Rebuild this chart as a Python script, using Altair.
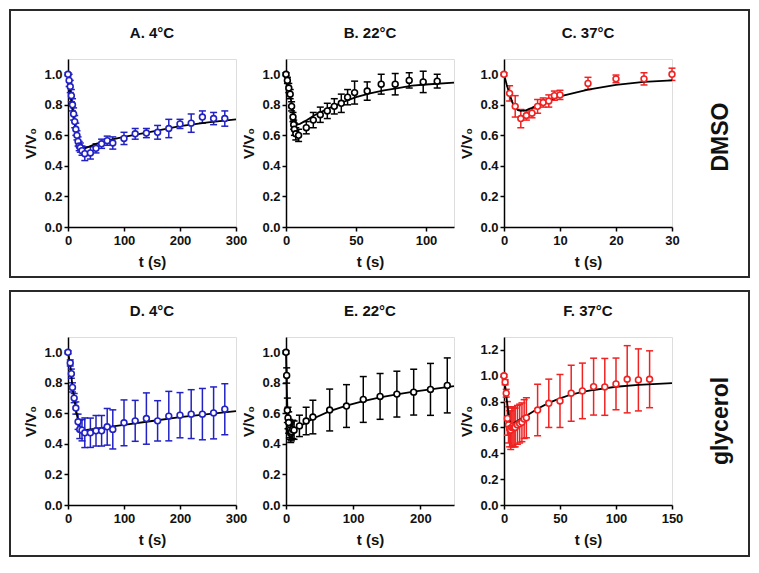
import altair as alt
import pandas as pd

FONT = "Liberation Sans"
BLUE = "#2222c4"
RED = "#f02222"
BLACK = "#000000"

ROW_LABELS = ["DMSO", "glycerol"]
TITLES = ["A. 4°C", "B. 22°C", "C. 37°C", "D. 4°C", "E. 22°C", "F. 37°C"]

# ---- Panel A : DMSO 4 °C ----
A_t = [0, 2, 4, 6, 8, 10, 12, 14, 16, 18, 20, 22, 25, 30, 40, 50, 60, 70, 80,
       100, 120, 140, 160, 180, 200, 220, 240, 260, 280]
A_v = [1.0, 0.96, 0.92, 0.86, 0.80, 0.74, 0.69, 0.64, 0.60, 0.56, 0.53, 0.52, 0.50,
       0.48, 0.485, 0.515, 0.545, 0.565, 0.55, 0.58, 0.61, 0.615, 0.62, 0.645,
       0.675, 0.68, 0.72, 0.71, 0.71]
A_err = [0.01, 0.04, 0.04, 0.04, 0.04, 0.04, 0.04, 0.04, 0.03, 0.03, 0.03, 0.03, 0.03,
         0.045, 0.04, 0.03, 0.03, 0.03, 0.04, 0.04, 0.035, 0.03, 0.045, 0.06, 0.03,
         0.06, 0.04, 0.04, 0.05]
A_fit_t = [0, 3, 6, 9, 12, 15, 18, 21, 24, 30, 40, 50, 75, 100, 150, 200, 250, 300]
A_fit_v = [1.0, 0.91, 0.82, 0.74, 0.67, 0.61, 0.56, 0.52, 0.51, 0.515, 0.53, 0.545,
           0.57, 0.59, 0.625, 0.66, 0.685, 0.705]

# ---- Panel B : DMSO 22 °C ----
B_t = [0, 1, 2, 3, 4, 5, 5.5, 6, 7, 9, 14.5, 19.5, 24.5, 29.5, 34.5, 39.5, 44, 49,
       58, 68, 78, 88, 98, 108]
B_v = [1.0, 0.96, 0.91, 0.87, 0.79, 0.72, 0.67, 0.64, 0.61, 0.60, 0.65, 0.70, 0.735,
       0.76, 0.79, 0.81, 0.85, 0.88, 0.89, 0.935, 0.935, 0.96, 0.95, 0.955]
B_err = [0.01, 0.02, 0.03, 0.03, 0.03, 0.03, 0.03, 0.04, 0.04, 0.04, 0.04, 0.05, 0.05,
         0.05, 0.05, 0.06, 0.05, 0.075, 0.06, 0.065, 0.07, 0.05, 0.07, 0.045]
B_fit_t = [0, 2, 4, 6, 7.5, 10, 15, 20, 30, 40, 50, 60, 70, 80, 90, 100, 120]
B_fit_v = [1.0, 0.91, 0.81, 0.72, 0.67, 0.675, 0.70, 0.73, 0.775, 0.815, 0.85, 0.875,
           0.895, 0.91, 0.925, 0.933, 0.945]

# ---- Panel C : DMSO 37 °C ----
C_t = [0, 1, 2, 3, 4, 5, 6, 7, 8, 9, 10, 15, 20, 25, 30]
C_v = [1.0, 0.875, 0.79, 0.71, 0.73, 0.745, 0.79, 0.815, 0.825, 0.86, 0.865, 0.94,
       0.97, 0.97, 1.0]
C_err = [0.01, 0.05, 0.07, 0.06, 0.03, 0.03, 0.045, 0.03, 0.04, 0.03, 0.03, 0.04,
         0.025, 0.04, 0.04]
C_fit_t = [0, 0.5, 1, 1.5, 2, 2.5, 3, 4, 5, 6, 8, 10, 15, 20, 25, 30]
C_fit_v = [1.0, 0.93, 0.87, 0.815, 0.78, 0.765, 0.76, 0.765, 0.78, 0.80, 0.83, 0.855,
           0.90, 0.93, 0.95, 0.96]

# ---- Panel D : glycerol 4 °C ----
D_t = [0, 4, 6, 8, 11, 14, 18, 21, 25, 30, 40, 50, 60, 70, 80,
       100, 120, 140, 160, 180, 200, 220, 240, 260, 280]
D_v = [1.0, 0.93, 0.86, 0.77, 0.70, 0.635, 0.545, 0.495, 0.49,
       0.473, 0.473, 0.486, 0.486, 0.512, 0.495,
       0.538, 0.551, 0.566, 0.551, 0.582, 0.588, 0.595, 0.595, 0.603, 0.627]
D_err = [0.01, 0.02, 0.03, 0.03, 0.03, 0.04, 0.05, 0.06, 0.07,
         0.097, 0.096, 0.10, 0.10, 0.12, 0.128,
         0.15, 0.134, 0.168, 0.132, 0.162, 0.148, 0.16, 0.168, 0.17, 0.167]
D_fit_t = [0, 4, 8, 11, 14, 18, 22, 27, 50, 100, 150, 200, 250, 300]
D_fit_v = [1.0, 0.92, 0.77, 0.70, 0.63, 0.55, 0.50, 0.488, 0.50, 0.525, 0.55, 0.575,
           0.595, 0.614]

# ---- Panel E : glycerol 22 °C ----
E_t = [0, 1, 2, 3, 4, 5, 6, 7, 8, 10, 12, 20, 30, 40, 65, 90, 115, 140, 165, 190,
       215, 240]
E_v = [1.0, 0.848, 0.62, 0.57, 0.54, 0.50, 0.49, 0.47, 0.48, 0.495, 0.49, 0.518,
       0.55, 0.576, 0.622, 0.648, 0.691, 0.711, 0.726, 0.739, 0.757, 0.783]
E_err = [0.01, 0.05, 0.08, 0.07, 0.07, 0.06, 0.06, 0.06, 0.06, 0.06, 0.06, 0.07,
         0.09, 0.11, 0.137, 0.14, 0.15, 0.15, 0.15, 0.15, 0.17, 0.18]
E_fit_t = [0, 1, 2, 3, 5, 8, 12, 20, 40, 65, 90, 115, 140, 165, 190, 215, 250]
E_fit_v = [1.0, 0.80, 0.62, 0.52, 0.49, 0.49, 0.495, 0.515, 0.565, 0.615, 0.65,
           0.68, 0.705, 0.725, 0.742, 0.757, 0.778]

# ---- Panel F : glycerol 37 °C ----
F_t = [0, 1, 2, 3, 4, 5, 6, 7, 8, 9, 10, 12, 14, 16, 18, 20, 30, 40, 50, 60, 70,
       80, 90, 100, 110, 120, 130]
F_v = [1.0, 0.95, 0.865, 0.67, 0.62, 0.59, 0.58, 0.60, 0.61, 0.60, 0.60, 0.62, 0.63,
       0.64, 0.665, 0.675, 0.735, 0.787, 0.805, 0.865, 0.883, 0.916, 0.914, 0.937,
       0.973, 0.968, 0.973]
F_err = [0.01, 0.02, 0.03, 0.13, 0.14, 0.14, 0.15, 0.15, 0.15, 0.15, 0.15, 0.15, 0.15,
         0.15, 0.15, 0.155, 0.20, 0.187, 0.205, 0.217, 0.215, 0.22, 0.22, 0.20, 0.26,
         0.24, 0.22]
F_fit_t = [0, 2, 4, 6, 8, 10, 15, 20, 30, 40, 50, 60, 70, 80, 90, 100, 120, 150]
F_fit_v = [1.0, 0.85, 0.70, 0.615, 0.625, 0.64, 0.665, 0.69, 0.745, 0.79, 0.825,
           0.855, 0.875, 0.89, 0.903, 0.915, 0.93, 0.943]

Y_TICKS = [0.0, 0.2, 0.4, 0.6, 0.8, 1.0]
Y_TICKS_F = [0.0, 0.2, 0.4, 0.6, 0.8, 1.0, 1.2]

W = 168
H = 168


def panel(title, t, v, err, fit_t, fit_v, color, xmax, xticks, ymax, yticks,
          extra=()):
    pts = pd.DataFrame({
        "t": t, "v": v,
        "lo": [a - b for a, b in zip(v, err)],
        "hi": [a + b for a, b in zip(v, err)],
    })
    fit = pd.DataFrame({"t": fit_t, "v": fit_v})
    xs = alt.Scale(domain=[0, xmax], nice=False, zero=True)
    ys = alt.Scale(domain=[0, ymax], nice=False, zero=True)
    common = dict(
        domainColor=BLACK, domainWidth=1.5, tickColor=BLACK, tickWidth=1.5,
        tickSize=4, labelFont=FONT, labelFontSize=13, labelFontWeight="bold",
        labelColor="#111111", titleFont=FONT, titleFontSize=15,
        titleFontWeight="bold", titleColor="#111111", grid=False,
        labelOverlap=False, tickCount=20,
    )
    xaxis = alt.Axis(values=xticks, title="t (s)", labelPadding=3,
                     titleX=W / 2, titleY=34, titleBaseline="middle",
                     titleAlign="center", labelFlush=False, **common)
    yaxis = alt.Axis(values=yticks, format=".1f", title="V/V₀", labelPadding=2,
                     titleX=-38, titleY=H / 2, titleBaseline="middle",
                     titleAlign="center", **common)
    base = alt.Chart(pts)
    rules = base.mark_rule(color=color, strokeWidth=1.5).encode(
        x=alt.X("t:Q", scale=xs, axis=xaxis),
        y=alt.Y("lo:Q", scale=ys, axis=yaxis),
        y2="hi:Q",
    )
    cap_lo = base.mark_tick(color=color, orient="horizontal", size=7,
                            thickness=1.5, opacity=1).encode(x="t:Q", y="lo:Q")
    cap_hi = base.mark_tick(color=color, orient="horizontal", size=7,
                            thickness=1.5, opacity=1).encode(x="t:Q", y="hi:Q")
    line = alt.Chart(fit).mark_line(color=BLACK, strokeWidth=1.8).encode(
        x="t:Q", y="v:Q")
    dots = base.mark_point(shape="circle", filled=True, fill="white",
                           stroke=color, strokeWidth=1.6, size=34,
                           opacity=1).encode(x="t:Q", y="v:Q")
    head = alt.Chart(pd.DataFrame({"title": [title]})).mark_text(
        font=FONT, fontSize=15, fontWeight="bold", color="#111111",
        align="center", baseline="alphabetic"
    ).encode(text="title:N", x=alt.value(W / 2), y=alt.value(-21))
    layers = [rules, cap_lo, cap_hi, line, dots, head] + list(extra)
    return alt.layer(*layers).properties(width=W, height=H)


def box(row_label, y0, y1):
    return alt.Chart(pd.DataFrame({"row": [row_label]})).mark_rect(
        fillOpacity=0, stroke="#2a2a2a", strokeWidth=2
    ).encode(x=alt.value(-58), x2=alt.value(681), y=alt.value(y0),
             y2=alt.value(y1))


def row_text(row_label, y):
    return alt.Chart(pd.DataFrame({"label": [row_label]})).mark_text(
        angle=270, font=FONT, fontSize=23, fontWeight="bold", color="#111111",
        align="center", baseline="middle"
    ).encode(text="label:N", x=alt.value(W + 49), y=alt.value(y))


pA = panel(TITLES[0], A_t, A_v, A_err, A_fit_t, A_fit_v, BLUE, 300,
           [0, 100, 200, 300], 1.1, Y_TICKS, extra=[box(ROW_LABELS[0], -49, 218)])
pB = panel(TITLES[1], B_t, B_v, B_err, B_fit_t, B_fit_v, BLACK, 120,
           [0, 50, 100], 1.1, Y_TICKS)
pC = panel(TITLES[2], C_t, C_v, C_err, C_fit_t, C_fit_v, RED, 30,
           [0, 10, 20, 30], 1.1, Y_TICKS, extra=[row_text(ROW_LABELS[0], 78)])
pD = panel(TITLES[3], D_t, D_v, D_err, D_fit_t, D_fit_v, BLUE, 300,
           [0, 100, 200, 300], 1.1, Y_TICKS, extra=[box(ROW_LABELS[1], -46, 219)])
pE = panel(TITLES[4], E_t, E_v, E_err, E_fit_t, E_fit_v, BLACK, 250,
           [0, 100, 200], 1.1, Y_TICKS)
pF = panel(TITLES[5], F_t, F_v, F_err, F_fit_t, F_fit_v, RED, 150,
           [0, 50, 100, 150], 1.3, Y_TICKS_F, extra=[row_text(ROW_LABELS[1], 84)])

chart = alt.concat(
    pA, pB, pC, pD, pE, pF, columns=3,
    spacing={"row": 110, "column": 50}, bounds="flush",
).properties(padding=0).configure_view(stroke=None).configure(background="white")

chart.save("out.html", embed_options={"renderer": "svg", "actions": False})
